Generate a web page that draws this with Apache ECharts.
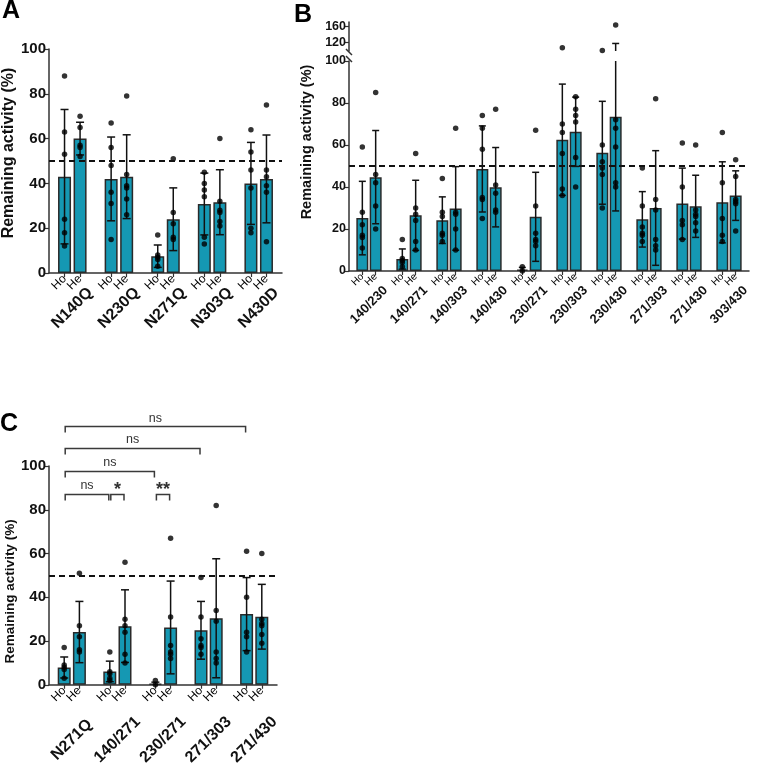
<!DOCTYPE html>
<html lang="en">
<head>
<meta charset="UTF-8">
<title>Remaining activity</title>
<script src="https://cdn.jsdelivr.net/npm/echarts@6/dist/echarts.min.js"></script>
<style>
  html, body { margin: 0; padding: 0; background: #fff; }
  #chart { width: 758px; height: 768px; }
</style>
</head>
<body>
<div id="chart"></div>
<script>
// ---------- panel A : single mutants ----------
var groupsA = ['N140Q', 'N230Q', 'N271Q', 'N303Q', 'N430D'];
var hoMeanA = [43, 42, 7.5, 30.8, 40];
var heMeanA = [60, 43, 24, 31.6, 42];
var hoSdA = [30, 18.7, 5, 13.8, 18.3];
var heSdA = [7.3, 18.7, 14, 14.5, 19.6];
var hoDotsA = [[88, 63, 53, 24, 18, 12], [67, 56, 48, 36, 31, 15], [17, 8, 7, 6, 3], [45, 40, 37, 34, 16, 13], [64, 54, 46, 38, 20, 18]];
var heDotsA = [[70, 65, 57, 56, 52], [79, 44, 39, 38, 33, 26], [51, 27, 22, 16, 15], [60, 32, 28, 27, 23, 21], [75, 46, 43, 39, 36, 14]];

// ---------- panel B : double mutants ----------
var groupsB = ['140/230', '140/271', '140/303', '140/430', '230/271', '230/303', '230/430', '271/303', '271/430', '303/430'];
var hoMeanB = [25.2, 5.7, 24.2, 48.6, 0.7, 62.5, 56.3, 24.6, 32.1, 32.7];
var heMeanB = [44.7, 26.5, 29.8, 39.9, 25.8, 66.3, 73.4, 30, 30.8, 35.9];
var hoSdB = [17.5, 4.8, 11.1, 20.5, 1, 26.5, 24.5, 13.2, 16.9, 19.3];
var heSdB = [22.2, 16.7, 19.9, 18.9, 21.2, 16.5, 44.8, 27.3, 14.8, 11.8];
var hoDotsB = [[59, 28, 22, 17, 16, 11], [15, 6, 5, 4, 2], [44, 28, 26, 18, 17, 14], [74, 68, 58, 35, 34, 25], [2, 0],
               [108, 70, 66, 56, 39, 36], [101, 60, 52, 49, 46, 30], [49, 31, 21, 18, 17, 14], [61, 40, 24, 22, 15], [66, 42, 25, 17, 14]];
var heDotsB = [[85, 46, 42, 31, 20], [56, 30, 27, 24, 14, 10], [68, 28, 27, 20, 10], [77, 41, 37, 29, 28], [67, 31, 18, 15, 14, 12],
               [83, 77, 74, 71, 54, 40], [163, 72, 68, 59, 42, 40], [82, 34, 29, 15, 12, 10], [60, 29, 27, 26, 23, 19], [53, 45, 34, 33, 32, 19]];
var upperTicksB = [120, 160];

// ---------- panel C : N271Q containing ----------
var groupsC = ['N271Q', '140/271', '230/271', '271/303', '271/430'];
var hoMeanC = [7.9, 6.1, 0.4, 24.9, 32.3];
var heMeanC = [24.1, 26.8, 26.2, 30.4, 31.1];
var hoSdC = [4.8, 4.7, 0.8, 13.2, 16.7];
var heSdC = [14, 16.6, 21.2, 27.2, 14.8];
var hoDotsC = [[17, 9, 8, 7, 3], [15, 6, 5, 3, 2], [2, 0], [49, 31, 21, 18, 17, 14], [61, 40, 24, 22, 15]];
var heDotsC = [[51, 27, 22, 16, 15], [56, 30, 27, 24, 14, 10], [67, 31, 18, 15, 14, 12], [82, 34, 29, 15, 12, 10], [60, 30, 28, 27, 23, 19]];
// comparisons: [from position, to position, bracket height]
var bracketFrom = [1, 4, 7, 1, 1, 1];
var bracketTo = [4, 5, 8, 7, 10, 13];
var bracketLevel = [87, 87, 87, 97.5, 108, 118];
var bracketText = ['ns', '*', '**', 'ns', 'ns', 'ns'];

var threshold = 50;

var TEAL = '#1598b3';
var FONT = 'Liberation Sans, Arial, sans-serif';

// positions: blank, Ho, He, blank, Ho, He ... blank
function positions(n) {
    var c = [''];
    for (var i = 0; i < n; i++) c.push('Ho', 'He', '');
    return c;
}
function barData(ho, he) {
    var d = ['-'];
    for (var i = 0; i < ho.length; i++) d.push(ho[i], he[i], '-');
    return d;
}
function errData(ho, hoSd, he, heSd) {
    var d = [];
    for (var i = 0; i < ho.length; i++) {
        d.push([3 * i + 1, ho[i], hoSd[i]]);
        d.push([3 * i + 2, he[i], heSd[i]]);
    }
    return d;
}
function dotData(hoDots, heDots, lo, hi) {
    var d = [];
    for (var i = 0; i < hoDots.length; i++) {
        hoDots[i].forEach(function (v) { if (v >= lo && v <= hi) d.push([3 * i + 1, v]); });
        heDots[i].forEach(function (v) { if (v >= lo && v <= hi) d.push([3 * i + 2, v]); });
    }
    return d;
}

// error bar drawn only inside [lo, hi] of its own axis
function errRender(lo, hi, cap) {
    return function (params, api) {
        var x = api.value(0), m = api.value(1), s = api.value(2);
        var top = Math.min(m + s, hi), bot = Math.max(m - s, lo);
        if (top <= bot) return;
        var p1 = api.coord([x, top]), p2 = api.coord([x, bot]);
        var st = { stroke: '#111', lineWidth: 1.5 };
        var ch = [{ type: 'line', shape: { x1: p1[0], y1: p1[1], x2: p2[0], y2: p2[1] }, style: st }];
        if (m + s <= hi) ch.push({ type: 'line', shape: { x1: p1[0] - cap, y1: p1[1], x2: p1[0] + cap, y2: p1[1] }, style: st });
        if (m - s >= lo) ch.push({ type: 'line', shape: { x1: p2[0] - cap, y1: p2[1], x2: p2[0] + cap, y2: p2[1] }, style: st });
        return { type: 'group', children: ch };
    };
}

function bracketRender(params, api) {
    var a = api.coord([api.value(0), api.value(2)]);
    var b = api.coord([api.value(1), api.value(2)]);
    var x1 = a[0] + 1, x2 = b[0] - 1, y = a[1], leg = 6;
    var txt = bracketText[params.dataIndex];
    var star = txt.indexOf('*') >= 0;
    return {
        type: 'group',
        children: [
            { type: 'polyline', shape: { points: [[x1, y + leg], [x1, y], [x2, y], [x2, y + leg]] },
              style: { stroke: '#3a3a3a', lineWidth: 1.5, fill: null } },
            { type: 'text', style: { text: txt, x: (x1 + x2) / 2, y: star ? y + 5 : y - 2,
              align: 'center', verticalAlign: 'bottom', fill: '#333',
              font: (star ? 'bold 18px ' : '12.5px ') + FONT } }
        ]
    };
}

// layout of the three panels
var gA = { left: 49, top: 49, width: 233, height: 224 };
var gB = { left: 349, top: 61, width: 400, height: 210 };
var gBup = { left: 349, top: 22, width: 400, height: 29 };
var gC = { left: 49, top: 466, width: 228, height: 225 };

var axisCol = '#333';

function posAxis(grid, n, fs, show) {
    return {
        type: 'category', gridIndex: grid, data: positions(n), boundaryGap: false, position: 'bottom', show: show,
        axisLine: { lineStyle: { color: axisCol, width: 1.5 } },
        axisTick: { length: 4, interval: function (i, v) { return v !== ''; }, lineStyle: { color: axisCol, width: 1.2 } },
        axisLabel: { interval: 0, rotate: 45, margin: 4, fontSize: fs, color: '#000', fontFamily: FONT }
    };
}
function groupAxis(grid, groups, fs, margin) {
    return {
        type: 'category', gridIndex: grid, data: groups, boundaryGap: true, position: 'bottom',
        axisLine: { show: false }, axisTick: { show: false },
        axisLabel: { interval: 0, rotate: 45, align: 'center', verticalAlign: 'middle', margin: margin,
                     fontSize: fs, fontWeight: 'bold', color: '#111', fontFamily: FONT }
    };
}
function valAxis(grid, fs, name, nameFs, nameGap, namePad) {
    return {
        type: 'value', gridIndex: grid, min: 0, max: 100, interval: 20,
        axisLine: { show: true, lineStyle: { color: axisCol, width: 1.5 } },
        axisTick: { show: true, length: 5, lineStyle: { color: axisCol, width: 1.2 } },
        axisLabel: { fontSize: fs, fontWeight: 'bold', color: '#111', margin: 3, fontFamily: FONT },
        splitLine: { show: false },
        name: name, nameLocation: 'middle', nameGap: nameGap,
        nameTextStyle: { fontSize: nameFs, fontWeight: 'bold', color: '#111', fontFamily: FONT, padding: namePad }
    };
}

var dash50 = {
    silent: true, symbol: ['none', 'none'], label: { show: false },
    lineStyle: { color: '#111', type: [6, 4], width: 2 },
    data: [{ yAxis: threshold }]
};

function panelSeries(xi, yi, ho, he, hoSd, heSd, hoDots, heDots, barW, cap, withLine) {
    var s = [];
    s.push({ type: 'bar', xAxisIndex: xi, yAxisIndex: yi, data: barData(ho, he), barWidth: barW,
             itemStyle: { color: TEAL, borderColor: '#2a2a2a', borderWidth: 1.5 },
             markLine: withLine ? dash50 : undefined, z: 2 });
    s.push({ type: 'custom', xAxisIndex: xi, yAxisIndex: yi, data: errData(ho, hoSd, he, heSd),
             renderItem: errRender(0, 100, cap), clip: false, z: 3 });
    s.push({ type: 'scatter', xAxisIndex: xi, yAxisIndex: yi, data: dotData(hoDots, heDots, 0, 100),
             symbolSize: 5.5, itemStyle: { color: '#000' }, z: 4 });
    return s;
}

var series = [];
series = series.concat(panelSeries(0, 0, hoMeanA, heMeanA, hoSdA, heSdA, hoDotsA, heDotsA, 13, 4, true));
series = series.concat(panelSeries(2, 1, hoMeanB, heMeanB, hoSdB, heSdB, hoDotsB, heDotsB, 12, 3.5, true));
// upper (broken) segment of panel B
series.push({ type: 'custom', xAxisIndex: 4, yAxisIndex: 2, data: errData(hoMeanB, hoSdB, heMeanB, heSdB),
              renderItem: errRender(100, 170, 3.5), clip: false, z: 3 });
series.push({ type: 'scatter', xAxisIndex: 4, yAxisIndex: 2, data: dotData(hoDotsB, heDotsB, 100.5, 170),
              symbolSize: 5.5, itemStyle: { color: '#000' }, z: 4 });
series = series.concat(panelSeries(5, 3, hoMeanC, heMeanC, hoSdC, heSdC, hoDotsC, heDotsC, 13, 4, true));
var brackets = bracketFrom.map(function (f, i) { return [f, bracketTo[i], bracketLevel[i]]; });
series.push({ type: 'custom', xAxisIndex: 5, yAxisIndex: 3, data: brackets, renderItem: bracketRender, clip: false, z: 5 });

var yBup = {
    type: 'value', gridIndex: 2, min: 100, max: 170,
    axisLine: { show: true, lineStyle: { color: axisCol, width: 1.5 } },
    axisTick: { show: true, length: 5, customValues: upperTicksB, lineStyle: { color: axisCol, width: 1.2 } },
    axisLabel: { fontSize: 12.5, fontWeight: 'bold', color: '#111', margin: 3, fontFamily: FONT, customValues: upperTicksB },
    splitLine: { show: false }
};

var letterStyle = { fontSize: 25, fontWeight: 'bold', color: '#000', fontFamily: FONT };

var option = {
    backgroundColor: '#fff',
    animation: false,
    title: [
        { text: 'A', left: 2, top: -1, padding: 0, textStyle: letterStyle },
        { text: 'B', left: 294, top: 3, padding: 0, textStyle: letterStyle },
        { text: 'C', left: 0, top: 412, padding: 0, textStyle: letterStyle }
    ],
    grid: [gA, gB, gBup, gC],
    xAxis: [
        posAxis(0, groupsA.length, 12, true),
        groupAxis(0, groupsA, 16, 35),
        posAxis(1, groupsB.length, 10, true),
        groupAxis(1, groupsB, 13, 34),
        posAxis(2, groupsB.length, 10, false),
        posAxis(3, groupsC.length, 12, true),
        groupAxis(3, groupsC, 16, 55)
    ],
    yAxis: [
        valAxis(0, 15, 'Remaining activity (%)', 16, 28, [0, 0, 0, 16]),
        valAxis(1, 12.5, 'Remaining activity (%)', 14.5, 25, [0, 0, 0, 48]),
        yBup,
        valAxis(3, 15, 'Remaining activity (%)', 13.5, 31, [0, 32, 0, 0])
    ],
    // axis break marks of panel B
    graphic: [
        { type: 'line', shape: { x1: gB.left - 3, y1: gBup.top + gBup.height - 2, x2: gB.left + 3, y2: gBup.top + gBup.height + 4 },
          style: { stroke: axisCol, lineWidth: 1.5 } },
        { type: 'line', shape: { x1: gB.left - 3, y1: gB.top - 5, x2: gB.left + 3, y2: gB.top + 1 },
          style: { stroke: axisCol, lineWidth: 1.5 } }
    ],
    series: series
};

var chart = echarts.init(document.getElementById('chart'), null, { renderer: 'canvas' });
chart.setOption(option);
</script>
</body>
</html>
